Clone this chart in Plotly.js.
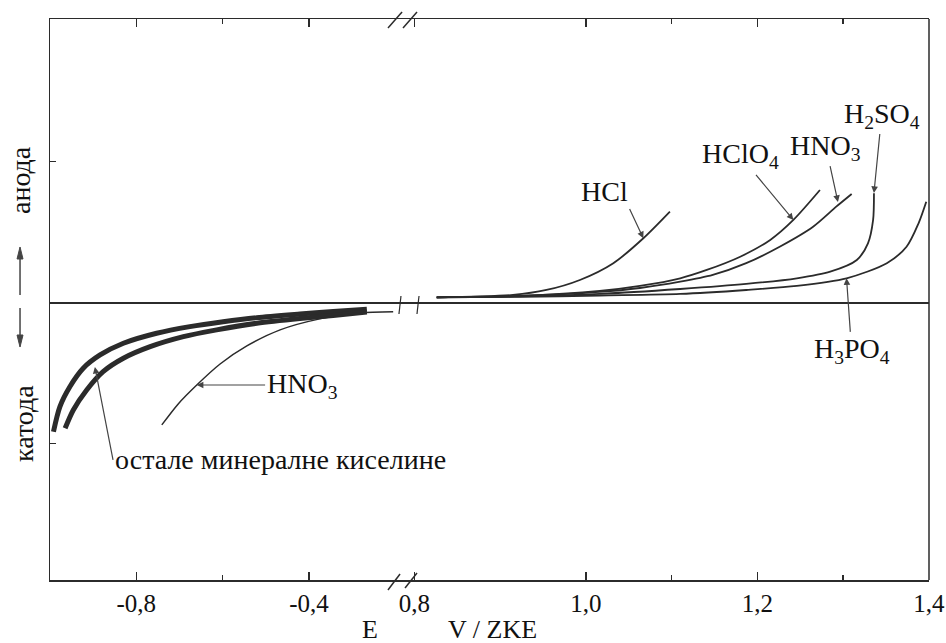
<!DOCTYPE html>
<html>
<head>
<meta charset="utf-8">
<script src="https://cdn.plot.ly/plotly-3.0.1.min.js"></script>
<style>html,body{margin:0;padding:0;background:#fff;}#chart{width:946px;height:643px;}</style>
</head>
<body>
<div id="chart"></div>
<script>
// ---- anodic curves (right segment of the broken E axis, V / ZKE) ----
var hclX   = [0.826, 0.915, 0.954, 0.993, 1.032, 1.067, 1.098];
var hclY   = [0.040, 0.057, 0.092, 0.163, 0.282, 0.459, 0.648];
var hclo4X = [0.826, 0.923, 1.016, 1.063, 1.110, 1.141, 1.180, 1.215, 1.242, 1.273];
var hclo4Y = [0.040, 0.050, 0.085, 0.121, 0.175, 0.234, 0.328, 0.447, 0.589, 0.801];
var hno3aX = [0.826, 0.923, 1.016, 1.063, 1.110, 1.148, 1.187, 1.226, 1.265, 1.292, 1.310];
var hno3aY = [0.040, 0.050, 0.078, 0.106, 0.151, 0.199, 0.282, 0.399, 0.541, 0.683, 0.773];
var h2so4X = [0.826, 0.923, 1.016, 1.110, 1.187, 1.246, 1.285, 1.316, 1.329, 1.335, 1.336];
var h2so4Y = [0.040, 0.046, 0.064, 0.099, 0.135, 0.175, 0.222, 0.305, 0.423, 0.589, 0.778];
var h3po4X = [0.826, 0.923, 1.016, 1.110, 1.187, 1.246, 1.304, 1.351, 1.374, 1.388, 1.397];
var h3po4Y = [0.040, 0.043, 0.053, 0.064, 0.092, 0.121, 0.175, 0.282, 0.399, 0.565, 0.718];

// ---- cathodic curves (left segment) ----
var otherOuterX = [-0.992, -0.977, -0.954, -0.923, -0.884, -0.830, -0.753, -0.676, -0.599, -0.521, -0.421, -0.344, -0.266];
var otherOuterY = [-0.913, -0.735, -0.594, -0.463, -0.369, -0.286, -0.215, -0.168, -0.133, -0.104, -0.078, -0.060, -0.045];
var otherInnerX = [-0.965, -0.946, -0.915, -0.877, -0.830, -0.768, -0.691, -0.614, -0.521, -0.421, -0.344, -0.266];
var otherInnerY = [-0.889, -0.759, -0.617, -0.487, -0.392, -0.310, -0.239, -0.191, -0.144, -0.110, -0.089, -0.064];
var hno3cX = [-0.741, -0.703, -0.660, -0.606, -0.544, -0.467, -0.375, -0.282, -0.205];
var hno3cY = [-0.865, -0.716, -0.582, -0.433, -0.305, -0.191, -0.113, -0.071, -0.062];

// ---- tick labels ----
var leftTickVals  = [-0.8, -0.4];
var leftTickText  = ['-0,8', '-0,4'];
var leftMinorVals = [-0.6];
var rightTickVals  = [0.8, 1.0, 1.2, 1.4];
var rightTickText  = ['0,8', '1,0', '1,2', '1,4'];
var rightMinorVals = [1.1, 1.3];
var yTickVals = [-1, 1];

var INK = '#2b2b2b';
var FONT = 'Liberation Serif';

function curve(x, y, w, axis) {
  return {x: x, y: y, type: 'scatter', mode: 'lines', xaxis: axis, yaxis: 'y',
          line: {color: INK, width: w, shape: 'spline', smoothing: 0.8},
          hoverinfo: 'skip', showlegend: false};
}

var data = [
  curve(hclX, hclY, 1.8, 'x2'),
  curve(hclo4X, hclo4Y, 1.8, 'x2'),
  curve(hno3aX, hno3aY, 1.8, 'x2'),
  curve(h2so4X, h2so4Y, 1.8, 'x2'),
  curve(h3po4X, h3po4Y, 1.8, 'x2'),
  curve(otherOuterX, otherOuterY, 5, 'x'),
  curve(otherInnerX, otherInnerY, 5, 'x'),
  curve(hno3cX, hno3cY, 1.5, 'x')
];

var split = 0.4027;
var axCommon = {
  showline: true, linecolor: INK, linewidth: 1.5, mirror: 'ticks',
  ticks: 'inside', ticklen: 8, tickwidth: 1.3, tickcolor: INK,
  showgrid: false, zeroline: false, tickmode: 'array',
  tickfont: {family: FONT, size: 25, color: '#111'}, fixedrange: true
};

var layout = {
  width: 946, height: 643,
  margin: {l: 50, r: 17, t: 19, b: 63},
  paper_bgcolor: '#ffffff', plot_bgcolor: '#ffffff',
  font: {family: FONT, color: '#111'},
  showlegend: false,
  xaxis: Object.assign({}, axCommon, {
    domain: [0, split], range: [-1.0, -0.18], anchor: 'y',
    tickvals: leftTickVals, ticktext: leftTickText,
    minor: {tickvals: leftMinorVals, ticks: 'inside', ticklen: 5, tickcolor: INK, tickwidth: 1.2}
  }),
  xaxis2: Object.assign({}, axCommon, {
    domain: [split, 1], range: [0.7878, 1.4002], anchor: 'y',
    tickvals: rightTickVals, ticktext: rightTickText,
    minor: {tickvals: rightMinorVals, ticks: 'inside', ticklen: 5, tickcolor: INK, tickwidth: 1.2}
  }),
  yaxis: {
    range: [-1.965, 2.014], showline: true, linecolor: INK, linewidth: 1.5,
    ticks: 'inside', ticklen: 6, tickcolor: INK, tickmode: 'array', tickvals: yTickVals,
    showticklabels: false, showgrid: false,
    zeroline: true, zerolinecolor: INK, zerolinewidth: 1.2, fixedrange: true
  },
  shapes: [
    // right frame border
    {type: 'line', xref: 'paper', yref: 'paper', x0: 1, x1: 1, y0: 0, y1: 1, line: {color: INK, width: 1.5}},
    // axis break marks (top, bottom)
    {type: 'line', xref: 'paper', yref: 'paper', x0: 0.3845, y0: 0.9840, x1: 0.4005, y1: 1.0125, line: {color: INK, width: 1.5}},
    {type: 'line', xref: 'paper', yref: 'paper', x0: 0.4016, y0: 0.9840, x1: 0.4175, y1: 1.0125, line: {color: INK, width: 1.5}},
    {type: 'line', xref: 'paper', yref: 'paper', x0: 0.3845, y0: -0.0178, x1: 0.3982, y1: 0.0107, line: {color: INK, width: 1.5}},
    {type: 'line', xref: 'paper', yref: 'paper', x0: 0.4039, y0: -0.0143, x1: 0.4175, y1: 0.0125, line: {color: INK, width: 1.5}},
    // break marks on the zero line
    {type: 'line', xref: 'paper', yref: 'paper', x0: 0.3970, y0: 0.4742, x1: 0.3993, y1: 0.5062, line: {color: INK, width: 1.2}},
    {type: 'line', xref: 'paper', yref: 'paper', x0: 0.4175, y0: 0.4742, x1: 0.4198, y1: 0.5062, line: {color: INK, width: 1.2}},
    // side arrows (anode up / cathode down)
    {type: 'line', xref: 'paper', yref: 'paper', x0: -0.0341, x1: -0.0341, y0: 0.508, y1: 0.5775, line: {color: '#444', width: 1.5}},
    {type: 'path', xref: 'paper', yref: 'paper', path: 'M -0.0375 0.5722 L -0.0307 0.5722 L -0.0341 0.5936 Z', fillcolor: '#444', line: {color: '#444', width: 1}},
    {type: 'line', xref: 'paper', yref: 'paper', x0: -0.0341, x1: -0.0341, y0: 0.4848, y1: 0.4314, line: {color: '#444', width: 1.5}},
    {type: 'path', xref: 'paper', yref: 'paper', path: 'M -0.0375 0.4367 L -0.0307 0.4367 L -0.0341 0.4153 Z', fillcolor: '#444', line: {color: '#444', width: 1}}
  ],
  annotations: []
};

var A = layout.annotations;
function label(txt, x, y, xref, yref, size, extra) {
  A.push(Object.assign({text: txt, x: x, y: y, xref: xref, yref: yref, showarrow: false,
    xanchor: 'center', yanchor: 'middle', font: {family: FONT, size: size, color: '#111'}}, extra || {}));
}
// label whose text sits at the arrow tail (tx, ty); arrow points at (hx, hy)
function arrowLabel(txt, hx, hy, tx, ty, xref, xan, yan) {
  A.push({text: txt, x: hx, y: hy, ax: tx, ay: ty, xref: xref, yref: 'y', axref: xref, ayref: 'y',
    xanchor: xan || 'auto', yanchor: yan || 'auto',
    font: {family: FONT, size: 28, color: '#111'},
    showarrow: true, arrowhead: 2, arrowsize: 1.1, arrowwidth: 1.2, arrowcolor: '#444', standoff: 0, startstandoff: 0});
}

arrowLabel('HCl', 1.067, 0.459, 1.051, 0.667, 'x2', 'right', 'bottom');
arrowLabel('HClO<sub>4</sub>', 1.242, 0.589, 1.180, 1.043, 'x2');
arrowLabel('HNO<sub>3</sub>', 1.294, 0.716, 1.280, 1.106, 'x2');
arrowLabel('H<sub>2</sub>SO<sub>4</sub>', 1.336, 0.780, 1.345, 1.333, 'x2');
arrowLabel('H<sub>3</sub>PO<sub>4</sub>', 1.304, 0.175, 1.310, -0.340, 'x2');
arrowLabel('HNO<sub>3</sub>', -0.660, -0.582, -0.416, -0.582, 'x');
arrowLabel('остале минералне киселине', -0.896, -0.454, -0.854, -1.113, 'x', 'left', 'middle');

label('E', 0.364, -0.089, 'paper', 'paper', 26);
label('V / ZKE', 0.503, -0.089, 'paper', 'paper', 26);

label('анода', -0.0341, 0.713, 'paper', 'paper', 28, {textangle: -90});
label('катода', -0.0296, 0.280, 'paper', 'paper', 28, {textangle: -90});

Plotly.newPlot('chart', data, layout, {displayModeBar: false, staticPlot: true});
</script>
</body>
</html>
